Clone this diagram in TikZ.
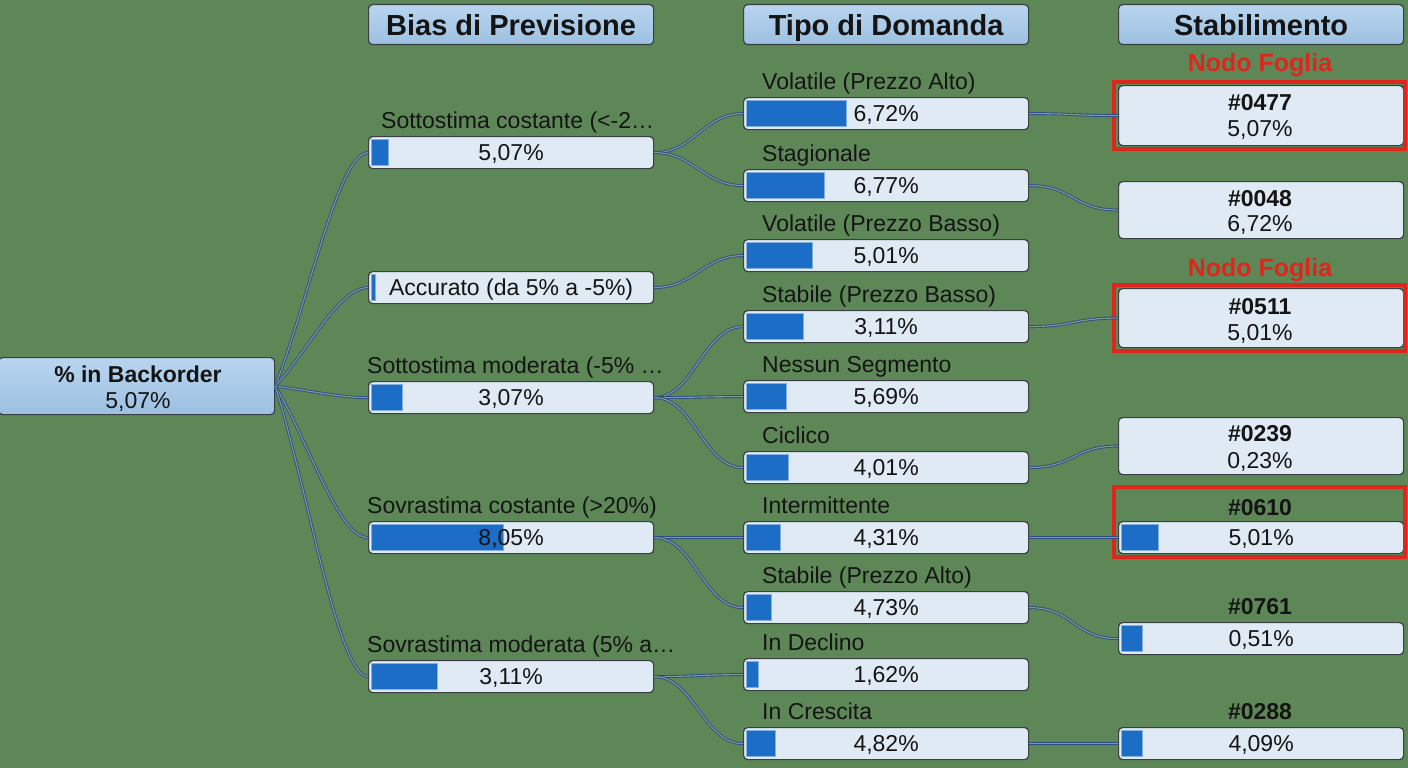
\documentclass[tikz,border=0pt]{standalone}
\usepackage{fontspec}
\setmainfont{Liberation Sans}
\usetikzlibrary{calc}
\definecolor{bg}{HTML}{5E8757}
\definecolor{hdrtop}{HTML}{B8D5EF}
\definecolor{hdrbot}{HTML}{9DC0E1}
\definecolor{boxfill}{HTML}{DFEAF5}
\definecolor{barblue}{HTML}{1C6DC6}
\definecolor{edgecol}{HTML}{3A3F44}
\definecolor{linkcol}{HTML}{2C4E80}
\definecolor{linkin}{HTML}{7C9AA0}
\definecolor{leafred}{HTML}{E0251C}
\definecolor{ink}{HTML}{141414}
\tikzset{
  txt/.style={inner sep=0pt, text height=16.5pt, text depth=0pt, font=\fontsize{23}{26}\selectfont, text=ink},
  btxt/.style={txt, font=\fontsize{23}{26}\selectfont\bfseries},
  hdrtext/.style={txt, text height=21pt, font=\fontsize{29}{32}\selectfont\bfseries},
  redtext/.style={txt, text height=18pt, font=\fontsize{25}{28}\selectfont\bfseries, text=leafred},
  lbl/.style={txt, anchor=west},
  hdrbox/.style={draw=edgecol, line width=1.2pt, top color=hdrtop, bottom color=hdrbot, rounded corners=4pt, minimum width=285pt, minimum height=40pt, anchor=north west, inner sep=0pt},
  rootbox/.style={hdrbox, minimum width=276pt, minimum height=57pt},
  barbox/.style={draw=edgecol, line width=1.2pt, fill=boxfill, rounded corners=4pt, minimum width=285pt, minimum height=32pt, anchor=north west, inner sep=0pt},
  leafbox/.style={barbox, minimum height=58pt},
  barfill/.style={fill=barblue, draw=barblue!55!white, line width=0.6pt},
  link/.style={draw=linkcol, double=linkin, line width=0.9pt, double distance=1.1pt},
  redframe/.style={draw=leafred, line width=3.5pt},
}
\begin{document}
\begin{tikzpicture}[x=1pt, y=-1pt]
\fill[bg] (0,0) rectangle (1408,768);
\useasboundingbox (0,0) rectangle (1408,768);

% headers
\node[hdrbox] (h1) at (368,4) {};
\node[hdrtext] at (h1.center) {Bias di Previsione};
\node[hdrbox] (h2) at (743,4) {};
\node[hdrtext] at (h2.center) {Tipo di Domanda};
\node[hdrbox] (h3) at (1118,4) {};
\node[hdrtext] at (h3.center) {Stabilimento};

% root
\node[rootbox] (root) at (-2,357) {};
\node[btxt] at (138,374) {\% in Backorder};
\node[txt] at (138,400) {5,07\%};

% level 1
\node[barbox] (p1) at (368,136) {};
\fill[barfill] (371,139) rectangle (388,165);
\node[txt] at (p1.center) {5,07\%};
\node[lbl] at (381,120) {Sottostima costante (<-2…};

\node[barbox] (p2) at (368,271) {};
\fill[barfill] (371,274) rectangle (375,300);
\node[txt] at (p2.center) {Accurato (da 5\% a -5\%)};

\node[barbox] (p3) at (368,381) {};
\fill[barfill] (371,384) rectangle (402,410);
\node[txt] at (p3.center) {3,07\%};
\node[lbl] at (367,365) {Sottostima moderata (-5\% …};

\node[barbox] (p4) at (368,521) {};
\fill[barfill] (371,524) rectangle (503,550);
\node[txt] at (p4.center) {8,05\%};
\node[lbl] at (367,505) {Sovrastima costante (>20\%)};

\node[barbox] (p5) at (368,660) {};
\fill[barfill] (371,663) rectangle (437,689);
\node[txt] at (p5.center) {3,11\%};
\node[lbl] at (367,644) {Sovrastima moderata (5\% a…};

% level 2
\node[barbox] (t1) at (743,97) {};
\fill[barfill] (746,100) rectangle (846,126);
\node[txt] at (t1.center) {6,72\%};
\node[lbl] at (762,81) {Volatile (Prezzo Alto)};

\node[barbox] (t2) at (743,169) {};
\fill[barfill] (746,172) rectangle (824,198);
\node[txt] at (t2.center) {6,77\%};
\node[lbl] at (762,153) {Stagionale};

\node[barbox] (t3) at (743,239) {};
\fill[barfill] (746,242) rectangle (812,268);
\node[txt] at (t3.center) {5,01\%};
\node[lbl] at (762,223) {Volatile (Prezzo Basso)};

\node[barbox] (t4) at (743,310) {};
\fill[barfill] (746,313) rectangle (803,339);
\node[txt] at (t4.center) {3,11\%};
\node[lbl] at (762,294) {Stabile (Prezzo Basso)};

\node[barbox] (t5) at (743,380) {};
\fill[barfill] (746,383) rectangle (786,409);
\node[txt] at (t5.center) {5,69\%};
\node[lbl] at (762,364) {Nessun Segmento};

\node[barbox] (t6) at (743,451) {};
\fill[barfill] (746,454) rectangle (788,480);
\node[txt] at (t6.center) {4,01\%};
\node[lbl] at (762,435) {Ciclico};

\node[barbox] (t7) at (743,521) {};
\fill[barfill] (746,524) rectangle (780,550);
\node[txt] at (t7.center) {4,31\%};
\node[lbl] at (762,505) {Intermittente};

\node[barbox] (t8) at (743,591) {};
\fill[barfill] (746,594) rectangle (771,620);
\node[txt] at (t8.center) {4,73\%};
\node[lbl] at (762,575) {Stabile (Prezzo Alto)};

\node[barbox] (t9) at (743,658) {};
\fill[barfill] (746,661) rectangle (758,687);
\node[txt] at (t9.center) {1,62\%};
\node[lbl] at (762,642) {In Declino};

\node[barbox] (t10) at (743,727) {};
\fill[barfill] (746,730) rectangle (775,756);
\node[txt] at (t10.center) {4,82\%};
\node[lbl] at (762,711) {In Crescita};

% level 3
\node[redtext] at (1260,63) {Nodo Foglia};
\node[leafbox, minimum height=60pt] (s1) at (1118,85) {};
\node[btxt] at (1260,102) {\#0477};
\node[txt] at (1260,128) {5,07\%};
\draw[redframe] (1114,82) rectangle (1405,149);

\node[leafbox, minimum height=57pt] (s2) at (1118,181) {};
\node[btxt] at (1260,198) {\#0048};
\node[txt] at (1260,223) {6,72\%};

\node[redtext] at (1260,267) {Nodo Foglia};
\node[leafbox, minimum height=59pt] (s3) at (1118,288) {};
\node[btxt] at (1260,306) {\#0511};
\node[txt] at (1260,332) {5,01\%};
\draw[redframe] (1114,285) rectangle (1405,351);

\node[leafbox, minimum height=57pt] (s4) at (1118,417) {};
\node[btxt] at (1260,433) {\#0239};
\node[txt] at (1260,460) {0,23\%};

\node[btxt] at (1260,507) {\#0610};
\node[barbox] (s5) at (1118,521) {};
\fill[barfill] (1121,524) rectangle (1158,550);
\node[txt] at (s5.center) {5,01\%};
\draw[redframe] (1114,487) rectangle (1405,557);

\node[btxt] at (1260,606) {\#0761};
\node[barbox] (s6) at (1118,622) {};
\fill[barfill] (1121,625) rectangle (1142,651);
\node[txt] at (s6.center) {0,51\%};

\node[btxt] at (1260,711) {\#0288};
\node[barbox] (s7) at (1118,727) {};
\fill[barfill] (1121,730) rectangle (1142,756);
\node[txt] at (s7.center) {4,09\%};

% connectors root -> level 1
\foreach \p in {p1,p2,p3,p4,p5}{
  \draw[link] (root.east) .. controls ($(root.east)!0.35!(\p.west)$) and ($(\p.west)+(-30,0)$) .. (\p.west);
}
% level 1 -> level 2
\foreach \a/\b in {p1/t1,p1/t2,p2/t3,p3/t4,p3/t5,p3/t6,p4/t7,p4/t8,p5/t9,p5/t10}{
  \draw[link] (\a.east) .. controls +(40,0) and +(-40,0) .. (\b.west);
}
% level 2 -> level 3
\foreach \a/\b in {t1/s1,t2/s2,t4/s3,t6/s4,t7/s5,t8/s6,t10/s7}{
  \draw[link] (\a.east) .. controls +(45,0) and +(-45,0) .. (\b.west);
}
\end{tikzpicture}
\end{document}
